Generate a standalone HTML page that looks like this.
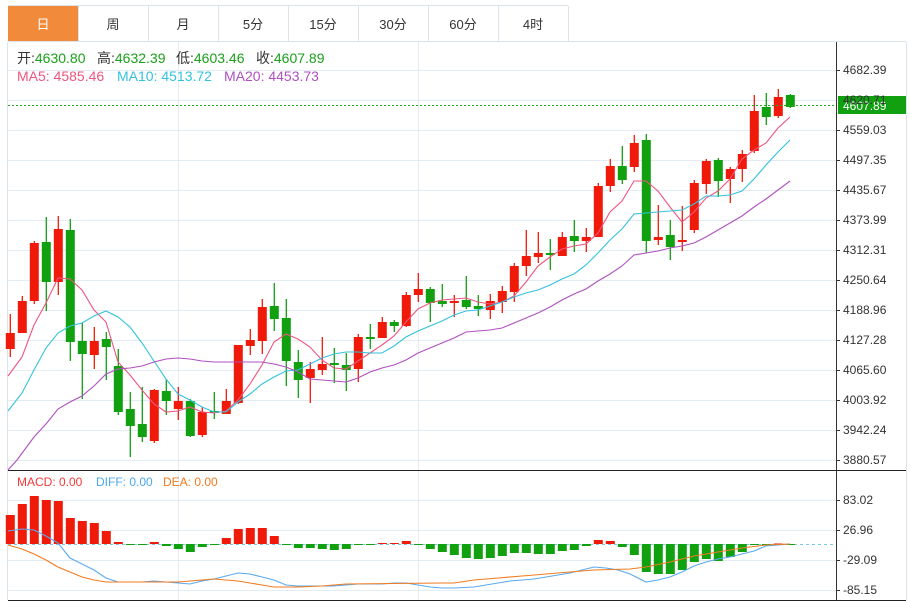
<!DOCTYPE html>
<html><head><meta charset="utf-8"><style>
html,body{margin:0;padding:0;background:#fff;width:910px;height:602px;overflow:hidden}
svg{display:block;font-family:"Liberation Sans","Noto Sans CJK SC",sans-serif}
</style></head><body>
<svg id="s" width="910" height="602" xmlns="http://www.w3.org/2000/svg">
<rect x="0" y="0" width="910" height="602" fill="#fff"/>
<g id="grid" stroke="#e3ebf3" stroke-width="1"></g>
<line x1="7.5" y1="42" x2="7.5" y2="600" stroke="#dde3ea"/>
<line x1="906.5" y1="42" x2="906.5" y2="600" stroke="#dde3ea"/>
<line x1="178.5" y1="42" x2="178.5" y2="600" stroke="#e3ebf3"/>
<line x1="418.5" y1="42" x2="418.5" y2="600" stroke="#e3ebf3"/>
<g id="tabs"></g>
<g id="c"></g>
<line x1="8" y1="470.5" x2="906" y2="470.5" stroke="#222"/>
<line x1="8" y1="600.5" x2="906" y2="600.5" stroke="#222"/>
<line x1="836.5" y1="42" x2="836.5" y2="600" stroke="#333"/>
<g id="ax" font-size="12" fill="#333"></g>
<g font-size="14">
<text x="17" y="63" fill="#333">开:<tspan fill="#1aa01a">4630.80</tspan></text>
<text x="97" y="63" fill="#333">高:<tspan fill="#1aa01a">4632.39</tspan></text>
<text x="176" y="63" fill="#333">低:<tspan fill="#1aa01a">4603.46</tspan></text>
<text x="256" y="63" fill="#333">收:<tspan fill="#1aa01a">4607.89</tspan></text>
</g>
<text x="17" y="81" font-size="14" fill="#ee5580">MA5: 4585.46</text>
<text x="117" y="81" font-size="14" fill="#33c2dd">MA10: 4513.72</text>
<text x="224" y="81" font-size="14" fill="#b050c0">MA20: 4453.73</text>
<text x="17" y="486" font-size="12" fill="#f03a3a">MACD: 0.00</text>
<text x="96" y="486" font-size="12" fill="#4aa8f0">DIFF: 0.00</text>
<text x="163" y="486" font-size="12" fill="#f07a20">DEA: 0.00</text>
</svg>
<script>
var NS="http://www.w3.org/2000/svg";
function el(p,t,a,txt){var e=document.createElementNS(NS,t);for(var k in a)e.setAttribute(k,a[k]);if(txt!=null)e.textContent=txt;document.getElementById(p).appendChild(e);return e;}
[70,100,130,160,190,220,250,280,310,340,370,400,430,460,500,530,560,590].forEach(function(y){el("grid","line",{x1:8,x2:836,y1:y+.5,y2:y+.5});});
var tabs=["日","周","月","5分","15分","30分","60分","4时"];
el("tabs","line",{x1:8,x2:568,y1:5.5,y2:5.5,stroke:"#dde3ea"});
el("tabs","line",{x1:8,x2:906,y1:41.5,y2:41.5,stroke:"#dde3ea"});
tabs.forEach(function(t,i){var x=8+i*70;
 if(i==0)el("tabs","rect",{x:x,y:6,width:70,height:35,fill:"#f28a3c"});
 el("tabs","line",{x1:x+70.5,x2:x+70.5,y1:6,y2:41,stroke:"#dde3ea"});
 el("tabs","text",{x:x+35,y:29,"font-size":13,"text-anchor":"middle",fill:i==0?"#fff":"#333"},t);});
var pl=[[70,"4682.39"],[130,"4559.03"],[160,"4497.35"],[190,"4435.67"],[220,"4373.99"],[250,"4312.31"],[280,"4250.64"],[310,"4188.96"],[340,"4127.28"],[370,"4065.60"],[400,"4003.92"],[430,"3942.24"],[460,"3880.57"],[500,"83.02"],[530,"26.96"],[560,"-29.09"],[590,"-85.15"]];
el("ax","text",{x:843,y:104},"4620.71");
pl.forEach(function(p){el("ax","line",{x1:836,x2:840,y1:p[0]+.5,y2:p[0]+.5,stroke:"#333"});el("ax","text",{x:843,y:p[0]+4},p[1]);});
var C=[[349,333,314,357],[333,301,296,333],[301,243,241,304],[242,282,217,311],[282,229,216,295],[230,342,219,361],[341,354,323,399],[355,341,327,369],[339,347,332,380],[366,412,349,415],[409,426,392,457],[424,437,387,442],[441,390,389,443],[391,401,379,415],[409,401,387,420],[401,436,399,437],[435,412,407,437],[411,413,392,419],[414,401,389,414],[403,345,345,404],[346,340,329,355],[341,307,299,354],[306,319,283,331],[318,361,299,386],[362,380,350,398],[378,369,362,403],[370,364,337,375],[363,365,348,383],[365,370,353,391],[369,337,334,382],[337,339,324,349],[338,322,317,338],[322,326,320,332],[326,295,292,327],[295,289,273,302],[289,303,287,322],[301,304,284,307],[303,301,295,317],[300,307,276,309],[306,309,295,316],[310,301,294,319],[302,291,286,313],[292,266,263,302],[266,256,230,276],[257,253,232,263],[253,255,239,270],[256,237,232,256],[236,241,220,252],[241,237,228,252],[237,186,183,237],[186,166,159,192],[166,180,146,184],[167,143,135,172],[140,241,134,253],[240,237,205,245],[235,247,220,260],[242,240,206,251],[230,183,180,233],[184,161,159,194],[160,181,158,197],[179,169,167,203],[169,154,150,182],[151,111,95,153],[107,117,93,125],[116,97,89,118],[95,107,94,108]];
C.forEach(function(d,i){var x=10.3+12*i,up=d[0]>d[1],col=up?"#f01a0a":"#10a010";
 el("c","line",{x1:x,x2:x,y1:d[2],y2:d[3],stroke:col,"stroke-width":1.3});
 var t=Math.min(d[0],d[1]),h=Math.max(Math.abs(d[0]-d[1]),1.5);
 el("c","rect",{x:x-4.5,y:t,width:9,height:h,fill:col});});
function pl2(pts,col,w){el("c","polyline",{points:pts,fill:"none",stroke:col,"stroke-width":w||1.1});}
pl2("8,376 22,357 34,325 46,303 58,278 70,279 82,290 94,310 106,322 118,362 130,375 142,390 154,404 166,412 178,411 190,407 202,412 214,413 226,411 238,400 250,384 262,365 274,342 286,334 298,339 310,347 322,360 334,368 346,369 358,361 370,353 382,345 394,336 406,322 418,309 430,303 442,300 454,299 466,298 478,302 490,304 502,302 514,296 526,282 538,266 550,257 562,249 574,246 586,244 598,233 610,212 622,201 634,181 646,181 658,191 670,207 682,222 694,212 706,198 718,191 730,179 742,159 754,150 766,143 778,128 790,117","#ee5580");
pl2("8,411 22,393 34,370 46,348 58,333 70,326 82,323 94,316 106,311 118,317 130,327 142,343 154,361 166,379 178,394 190,400 202,407 214,412 226,412 238,402 250,394 262,384 274,377 286,371 298,370 310,364 322,358 334,354 346,352 358,352 370,353 382,353 394,346 406,337 418,331 430,326 442,321 454,315 466,311 478,310 490,306 502,302 514,297 526,293 538,290 550,285 562,279 574,274 586,265 598,253 610,240 622,229 634,214 646,213 658,212 670,211 682,210 694,204 706,196 718,196 730,195 742,191 754,179 766,165 778,152 790,140","#33c2dd");
pl2("8,470 17,460 34,437 46,424 58,409 70,402 82,396 94,386 106,374 118,369 130,368 142,366 154,362 166,359 178,358 190,359 202,361 214,362 226,362 238,362 250,362 262,362 274,364 286,367 298,372 310,379 322,380 334,381 346,382 358,378 370,372 382,368 394,365 406,360 418,353 430,348 442,343 454,338 466,332 478,331 490,330 502,328 514,323 526,318 538,313 550,307 562,300 574,294 586,289 598,281 610,274 622,266 634,255 646,253 658,251 670,248 682,246 694,243 706,237 718,230 730,223 742,216 754,207 766,199 778,190 790,181","#b050c0");
el("c","line",{x1:8,x2:836,y1:105.5,y2:105.5,stroke:"#22aa22","stroke-dasharray":"2,2"});
el("c","rect",{x:838,y:96,width:68,height:18,fill:"#10a010"});
el("c","text",{x:843,y:110,"font-size":12,fill:"#fff"},"4607.89");
el("c","line",{x1:8,x2:836,y1:544.5,y2:544.5,stroke:"#7cc8ee","stroke-dasharray":"3,3"});
var M=[515,504,496,500,501,518,521,523,531,542,545,545,542,546,549,552,547,544.5,538,529,528,528,536,544.5,548,548,549,550,549,544.5,544.5,543,543,541,544.5,549,552,555,558,559,558,556,553,553,554,554,551,550,546,540,541,547,555,572,574,574,570,562,559,561,557,552,545,544.5,543.5,544];
M.forEach(function(y,i){var x=10.3+12*i,col=y<544?"#f01a0a":"#10a010",t=Math.min(y,544),h=Math.max(Math.abs(y-544),1);
 el("c","rect",{x:x-4.5,y:t,width:9,height:h,fill:col});});
pl2("8,531 22,529 34,530 46,536 58,543 70,558 82,564 94,570 106,578 118,582 130,582 142,582 154,581 166,582 178,583 190,584 202,581 214,579 226,576 238,573 250,574 262,577 274,580 286,585 298,586 310,586 322,586 334,586 346,585 358,584 370,584 382,584 394,583 406,583 418,585 430,587 442,588 454,588 474,587 486,585 498,583 510,581 522,580 534,579 546,577 558,575 570,573 582,570 594,567 606,568 618,570 630,574 646,582 658,580 670,577 682,572 694,566 706,562 718,559 730,557 742,554 754,551 766,546 778,545 790,544","#5aaaf0");
pl2("8,545 22,549 34,554 46,560 58,567 70,572 82,577 94,580 106,582 130,582 178,582 190,581 202,580 214,579 226,580 238,581 250,583 262,585 274,587 298,587 322,586 334,585 346,584 442,583 454,583 474,580 498,578 522,576 546,574 570,572 594,570 630,569 646,567 670,562 694,556 718,552 742,548 766,545 790,544","#f07a20");
</script>
</body></html>
